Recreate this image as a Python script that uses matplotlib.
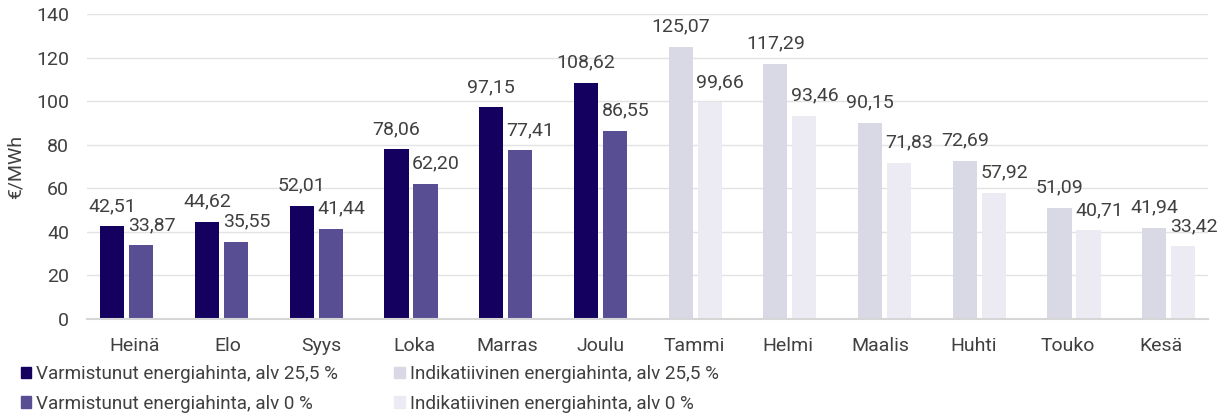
import numpy as np
import matplotlib.pyplot as plt
from matplotlib.patches import Patch

plt.rcParams['font.family'] = ['Roboto', 'DejaVu Sans']

months = ['Heinä', 'Elo', 'Syys', 'Loka', 'Marras', 'Joulu',
          'Tammi', 'Helmi', 'Maalis', 'Huhti', 'Touko', 'Kesä']
alv255 = [42.51, 44.62, 52.01, 78.06, 97.15, 108.62,
          125.07, 117.29, 90.15, 72.69, 51.09, 41.94]
alv0 = [33.87, 35.55, 41.44, 62.20, 77.41, 86.55,
        99.66, 93.46, 71.83, 57.92, 40.71, 33.42]
n_confirmed = 6  # first six months are confirmed, rest indicative

c_conf_hi = '#14005F'
c_conf_lo = '#584E94'
c_ind_hi = '#D9D8E5'
c_ind_lo = '#ECEBF3'
txt = '#404040'
fs = 14

fig = plt.figure(figsize=(12.26, 4.17), dpi=100)
ax = fig.add_axes([0.071, 0.235, 0.914, 0.731])

x = np.arange(len(months))
w = 0.255
off = 0.153
col_hi = [c_conf_hi if i < n_confirmed else c_ind_hi for i in x]
col_lo = [c_conf_lo if i < n_confirmed else c_ind_lo for i in x]

b1 = ax.bar(x - off, alv255, w, color=col_hi, zorder=2)
b2 = ax.bar(x + off, alv0, w, color=col_lo, zorder=2)

def fmt(v):
    return f'{v:.2f}'.replace('.', ',')

# second series labels sit a bit to the right, like in the original
for bars, vals, dx in ((b1, alv255, 0), (b2, alv0, 7.5)):
    for r, v in zip(bars, vals):
        ax.annotate(fmt(v), (r.get_x() + r.get_width() / 2, v),
                    xytext=(dx, 8), textcoords='offset points',
                    ha='center', va='bottom', fontsize=fs, color=txt)

# bar groups in the original are spread a little wider than the month labels
ax.set_xlim(-0.42, 11.41)
ax.set_ylim(0, 140)
ax.set_yticks(np.arange(0, 141, 20))
ax.set_xticks(0.08 + 0.985 * x)
ax.set_xticklabels(months)
ax.tick_params(axis='both', length=0, labelsize=fs, labelcolor=txt)
ax.tick_params(axis='y', pad=13)
ax.tick_params(axis='x', pad=13)
ax.grid(axis='y', color='#E3E3E3', linewidth=1, zorder=0)
for s in ['top', 'right', 'left']:
    ax.spines[s].set_visible(False)
ax.spines['bottom'].set_color('#D6D6D6')
ax.spines['bottom'].set_linewidth(1.5)
ax.set_ylabel('€/MWh', fontsize=fs, color=txt, labelpad=8)

handles = [Patch(color=c_conf_hi), Patch(color=c_conf_lo),
           Patch(color=c_ind_hi), Patch(color=c_ind_lo)]
labels = ['Varmistunut energiahinta, alv 25,5 %',
          'Varmistunut energiahinta, alv 0 %',
          'Indikatiivinen energiahinta, alv 25,5 %',
          'Indikatiivinen energiahinta, alv 0 %']
fig.legend(handles, labels, ncol=2, loc='lower left',
           bbox_to_anchor=(0.003, -0.03), frameon=False,
           fontsize=13.6, labelcolor=txt, handlelength=0.55,
           handleheight=0.55, handletextpad=0.25, columnspacing=3.0,
           labelspacing=0.6)

fig.savefig('out.png', dpi=100)
